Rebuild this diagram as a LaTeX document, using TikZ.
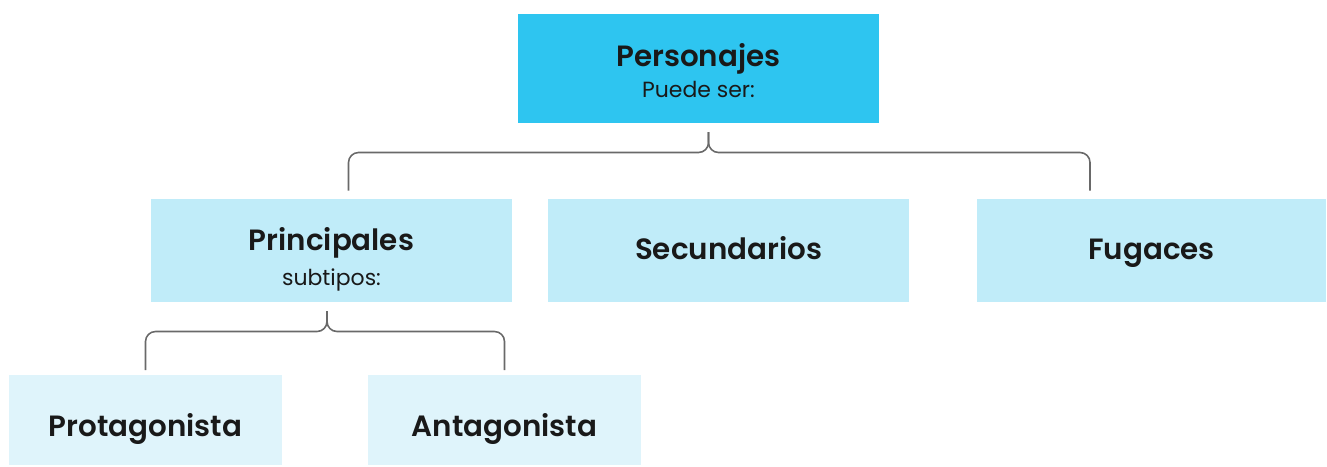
\documentclass[tikz,border=0pt]{standalone}
\usepackage{fontspec}
\setmainfont{Poppins}[BoldFont={Poppins SemiBold}]
\usepackage{xcolor}
\usepackage{tikz}
\definecolor{cyanTop}{RGB}{46,197,240}
\definecolor{cyanMid}{RGB}{192,236,249}
\definecolor{cyanLow}{RGB}{223,244,251}
\definecolor{braceGray}{RGB}{105,105,105}

\begin{document}
\begin{tikzpicture}[
    box/.style={rectangle,inner sep=0pt,text=black!90,font=\bfseries\fontsize{16.7}{19}\selectfont},
    sub/.style={inner sep=0pt,anchor=base,text=black!90,font=\fontsize{12.5}{15}\selectfont},
    brace/.style={draw=braceGray,line width=0.9pt,rounded corners=0.2cm}]
  \useasboundingbox (0,0) rectangle (26.54,-9.32);
  % root
  \node[box,fill=cyanTop,minimum width=7.22cm,minimum height=2.18cm,text height=0.2cm,text depth=0.27cm] (pers) at (13.97,-1.37) {Personajes};
  \node[sub] (persSub) at ([yshift=-0.576cm]pers.center) {Puede ser:};
  % second level
  \node[box,fill=cyanMid,minimum width=7.22cm,minimum height=2.06cm,text height=0.3cm,text depth=0.3cm] (prin) at (6.63,-5.01) {Principales};
  \node[sub] (prinSub) at ([yshift=-0.69cm]prin.center) {subtipos:};
  \node[box,fill=cyanMid,minimum width=7.22cm,minimum height=2.06cm,text height=0.6cm,text depth=0.248cm] (sec) at (14.57,-5.01) {Secundarios};
  \node[box,fill=cyanMid,minimum width=6.98cm,minimum height=2.06cm,text height=0.6cm,text depth=0.248cm] (fug) at (23.03,-5.01) {Fugaces};
  % third level
  \node[box,fill=cyanLow,minimum width=5.46cm,minimum height=1.8cm,text height=0.8cm,text depth=0.16cm] (prot) at (2.91,-8.4) {Protagonista};
  \node[box,fill=cyanLow,minimum width=5.46cm,minimum height=1.8cm,text height=0.8cm,text depth=0.16cm] (anta) at (10.09,-8.4) {Antagonista};
  % braces
  \coordinate (tipA) at (14.17,-2.64);
  \coordinate (tipB) at (6.54,-6.22);
  \draw[brace] (6.97,-3.81) -- (6.97,-3.05) -- (tipA |- 0,-3.05) -- (tipA);
  \draw[brace] (21.8,-3.81) -- (21.8,-3.05) -- (tipA |- 0,-3.05) -- (tipA);
  \draw[brace] (prot.north |- 0,-7.4) -- (prot.north |- 0,-6.63) -- (tipB |- 0,-6.63) -- (tipB);
  \draw[brace] (anta.north |- 0,-7.4) -- (anta.north |- 0,-6.63) -- (tipB |- 0,-6.63) -- (tipB);
\end{tikzpicture}
\end{document}
